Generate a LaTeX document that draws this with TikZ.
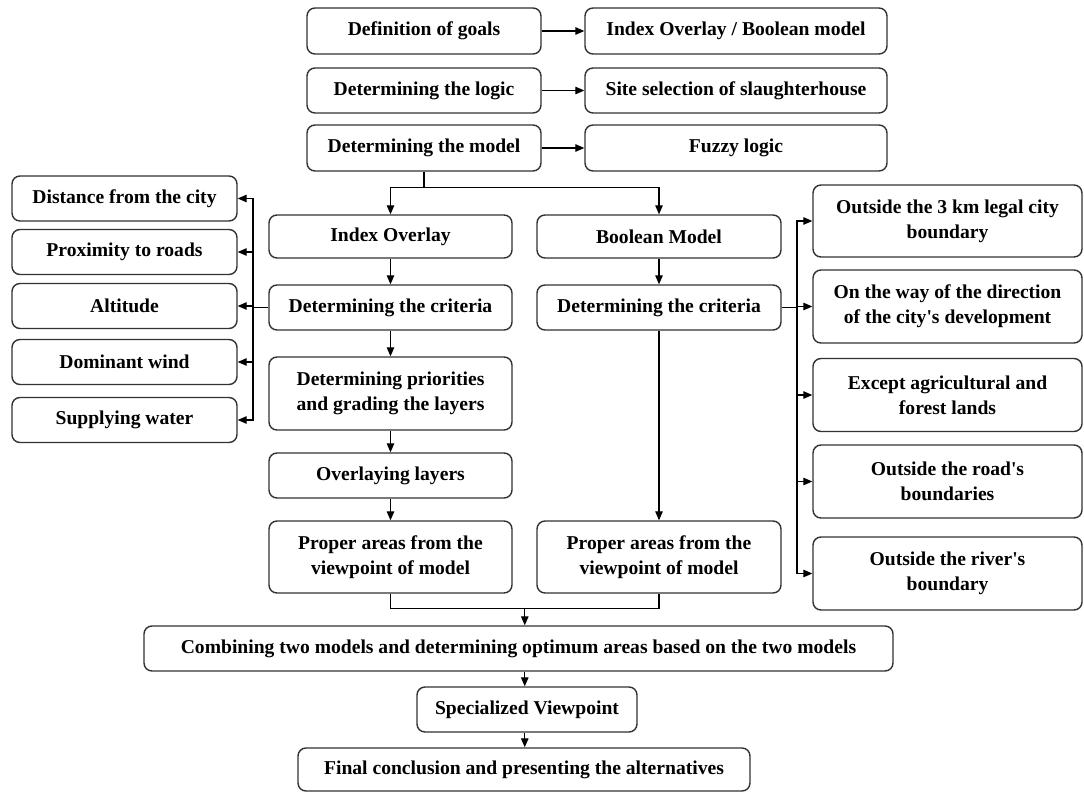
\documentclass[tikz,border=0pt]{standalone}
\usepackage{fontspec}
\setmainfont{Liberation Serif}
\usepackage{tikz}
\usetikzlibrary{
    arrows.meta,
    positioning,
    calc
}
\definecolor{boxline}{RGB}{50, 50, 50}

\begin{document}
\begin{tikzpicture}[
        x=1pt, y=-1pt,
        box/.style={rectangle, rounded corners=8pt, draw=boxline, line width=1.4pt, fill=white,
            inner sep=2pt, align=center, font=\fontsize{19.6}{25}\selectfont\bfseries},
        arrow/.style={-{Triangle[length=9pt, width=7.5pt]}, line width=1.2pt, draw=black},
        link/.style={line width=1.2pt, draw=black}
    ]
        \useasboundingbox (0,0) rectangle (1084,792);

        % top rows
        \node[box, minimum width=234pt, minimum height=46pt] (goals) at (424,31) {Definition of goals};
        \node[box, minimum width=302pt, minimum height=46pt] (target) at (736,31) {Index Overlay / Boolean model};
        \node[box, minimum width=234pt, minimum height=45pt] (logic) at (424,90.5) {Determining the logic};
        \node[box, minimum width=302pt, minimum height=45pt] (site) at (736,90.5) {Site selection of slaughterhouse};
        \node[box, minimum width=234pt, minimum height=46pt] (model) at (424,148) {Determining the model};
        \node[box, minimum width=302pt, minimum height=46pt] (fuzzy) at (736,148) {Fuzzy logic};

        % index overlay branch
        \node[box, minimum width=243pt, minimum height=43pt] (index) at (390.5,236.5) {Index Overlay};
        \node[box, minimum width=243pt, minimum height=45pt] (critL) at (390.5,307.5) {Determining the criteria};
        \node[box, minimum width=243pt, minimum height=73pt] (prior) at (390.5,393.5) {Determining priorities\\and grading the layers};
        \node[box, minimum width=243pt, minimum height=45pt] (layers) at (390.5,475.5) {Overlaying layers};
        \node[box, minimum width=243pt, minimum height=72pt] (properL) at (390.5,557) {Proper areas from the\\viewpoint of model};

        % boolean branch
        \node[box, minimum width=244pt, minimum height=43pt] (boolean) at (659,236.5) {Boolean Model};
        \node[box, minimum width=244pt, minimum height=45pt] (critR) at (659,307.5) {Determining the criteria};
        \node[box, minimum width=244pt, minimum height=72pt] (properR) at (659,557) {Proper areas from the\\viewpoint of model};

        % index overlay criteria
        \node[box, minimum width=225pt, minimum height=45pt] (dist) at (124.5,198.5) {Distance from the city};
        \node[box, minimum width=225pt, minimum height=45pt] (roads) at (124.5,252) {Proximity to roads};
        \node[box, minimum width=225pt, minimum height=45pt] (alt) at (124.5,306) {Altitude};
        \node[box, minimum width=225pt, minimum height=45pt] (wind) at (124.5,362) {Dominant wind};
        \node[box, minimum width=225pt, minimum height=45pt] (water) at (124.5,420) {Supplying water};

        % boolean criteria
        \node[box, minimum width=269pt, minimum height=72pt] (legal) at (947.5,221) {Outside the 3 km legal city\\boundary};
        \node[box, minimum width=269pt, minimum height=73pt] (devel) at (947.5,306.5) {On the way of the direction\\of the city\textquotesingle s development};
        \node[box, minimum width=269pt, minimum height=73pt] (lands) at (947.5,395) {Except agricultural and\\forest lands};
        \node[box, minimum width=269pt, minimum height=73pt] (road) at (947.5,481.5) {Outside the road\textquotesingle s\\boundaries};
        \node[box, minimum width=269pt, minimum height=73pt] (river) at (947.5,573.5) {Outside the river\textquotesingle s\\boundary};

        % final steps
        \node[box, minimum width=749pt, minimum height=45pt] (combine) at (518.5,648.5) {Combining two models and determining optimum areas based on the two models};
        \node[box, minimum width=220pt, minimum height=45pt] (expert) at (527,709.5) {Specialized Viewpoint};
        \node[box, minimum width=452pt, minimum height=43pt] (final) at (524,769.5) {Final conclusion and presenting the alternatives};

        \coordinate (busL) at (253,0);
        \coordinate (busR) at (797,0);
        \coordinate (join) at ($(properL.south)!0.5!(properR.south)+(0,15)$);

        \draw[arrow] (goals) -- (target);
        \draw[arrow] (logic) -- (site);
        \draw[arrow] (model) -- (fuzzy);
        \draw[arrow] (model.south) -- ++(0,16) -| (index.north);
        \draw[arrow] (model.south) -- ++(0,16) -| (boolean.north);

        \draw[arrow] (index) -- (critL);
        \draw[arrow] (critL) -- (prior);
        \draw[arrow] (prior) -- (layers);
        \draw[arrow] (layers) -- (properL);
        \draw[arrow] (boolean) -- (critR);
        \draw[arrow] (critR) -- (properR);

        \draw[link] (critL.west) -- (critL.west -| busL);
        \foreach \n in {dist, roads, alt, wind, water}
            \draw[arrow] (critL.west -| busL) |- (\n.east);
        \draw[link] (critR.east) -- (critR.east -| busR);
        \foreach \n in {legal, devel, lands, road, river}
            \draw[arrow] (critR.east -| busR) |- (\n.west);

        \draw[link] (properL.south) |- (join) -| (properR.south);
        \draw[arrow] (join) -- (join |- combine.north);
        \draw[arrow] (join |- combine.south) -- (join |- expert.north);
        \draw[arrow] (join |- expert.south) -- (join |- final.north);
    \end{tikzpicture}
\end{document}
